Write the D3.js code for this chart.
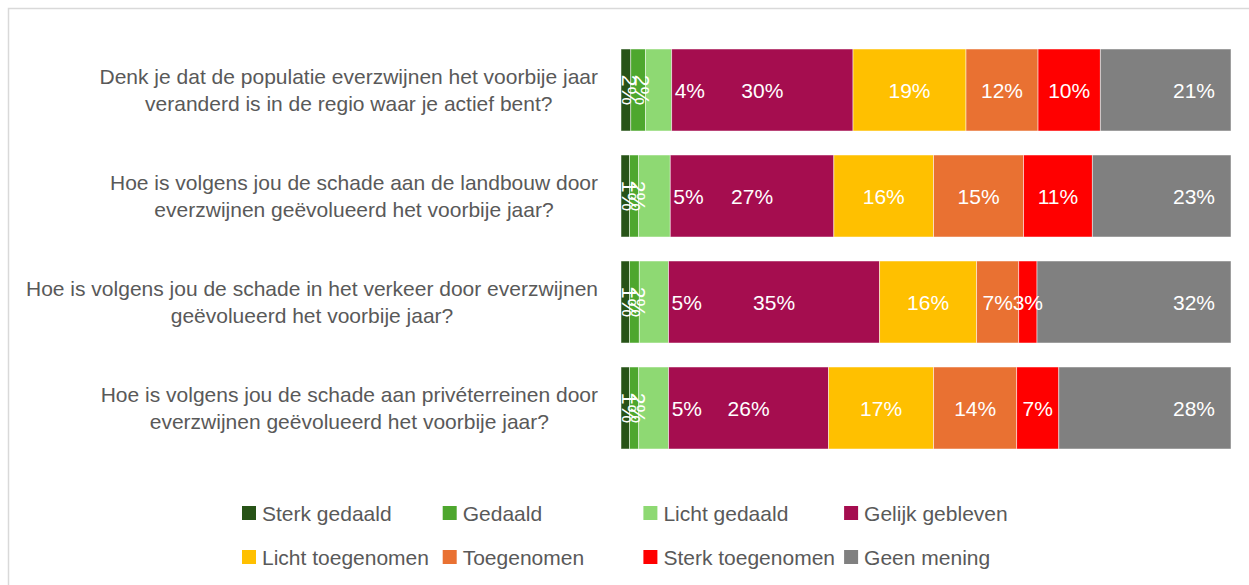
<!DOCTYPE html>
<html>
<head>
<meta charset="utf-8">
<script src="https://cdn.jsdelivr.net/npm/d3@7"></script>
<style>
  body { margin: 0; background: #fff; }
  text { font-family: "Liberation Sans", Arial, sans-serif; }
</style>
</head>
<body>
<div id="chart"></div>
<script>
const W = 1249, H = 585

// questions, each split into its display lines
const questions = [
  ["Denk je dat de populatie everzwijnen het voorbije jaar", "veranderd is in de regio waar je actief bent?"],
  ["Hoe is volgens jou de schade aan de landbouw door", "everzwijnen geëvolueerd het voorbije jaar?"],
  ["Hoe is volgens jou de schade in het verkeer door everzwijnen", "geëvolueerd het voorbije jaar?"],
  ["Hoe is volgens jou de schade aan privéterreinen door", "everzwijnen geëvolueerd het voorbije jaar?"]
]
const answers = ["Sterk gedaald", "Gedaald", "Licht gedaald", "Gelijk gebleven",
  "Licht toegenomen", "Toegenomen", "Sterk toegenomen", "Geen mening"]
const colors = ["#275317", "#4ea72e", "#8ed973", "#a50d4f",
  "#ffc000", "#e97132", "#ff0000", "#808080"]

// percentages per answer, one value per question
const sterkGedaald    = [1.6, 1.4, 1.4, 1.4]
const gedaald         = [2.4, 1.5, 1.6, 1.5]
const lichtGedaald    = [4.3, 5.2, 4.8, 4.9]
const gelijkGebleven  = [29.7, 26.9, 34.6, 26.2]
const lichtToegenomen = [18.5, 16.4, 15.9, 17.2]
const toegenomen      = [11.8, 14.8, 6.9, 13.6]
const sterkToegenomen = [10.2, 11.3, 3.0, 6.9]
const geenMening      = [21.4, 22.8, 31.8, 28.2]

const series = [sterkGedaald, gedaald, lichtGedaald, gelijkGebleven,
  lichtToegenomen, toegenomen, sterkToegenomen, geenMening]

const rows = questions.map((q, i) => {
  const r = { q: i }
  answers.forEach((a, j) => { r[a] = series[j][i] })
  return r
})

const svg = d3.select("#chart").append("svg")
  .attr("width", W).attr("height", H)

// chart area border (top + left visible)
svg.append("rect")
  .attr("x", 8.5).attr("y", 8.5)
  .attr("width", W + 20).attr("height", H + 20)
  .attr("fill", "none").attr("stroke", "#d9d9d9").attr("stroke-width", 1.5)

const x = d3.scaleLinear().domain([0, 1]).range([621, 1231])
const y = d3.scaleBand().domain(d3.range(questions.length))
  .range([37, 461]).paddingInner(0.2264).paddingOuter(0.1132)

const stack = d3.stack().keys(answers).offset(d3.stackOffsetExpand)
const layers = stack(rows)

const g = svg.append("g")
const layer = g.selectAll("g.layer").data(layers).join("g")
  .attr("class", "layer")
  .attr("fill", (d, i) => colors[i])

layer.selectAll("rect").data(d => d).join("rect")
  .attr("x", d => x(d[0]))
  .attr("y", (d, i) => y(i))
  .attr("width", d => x(d[1]) - x(d[0]))
  .attr("height", y.bandwidth())
  .attr("stroke", "#ffffff")
  .attr("stroke-opacity", 0.6)
  .attr("stroke-width", 0.8)

// value labels
layers.forEach((L, k) => {
  L.forEach((d, i) => {
    const val = series[k][i]
    const cy = y(i) + y.bandwidth() / 2
    const t = g.append("text")
      .attr("fill", "#fff")
      .attr("font-size", 21)
      .attr("dominant-baseline", "central")
      .text(Math.round(val) + "%")
    if (k < 2) {
      const cx = (x(d[0]) + x(d[1])) / 2 + 4
      t.attr("text-anchor", "middle")
        .attr("transform", `translate(${cx},${cy}) rotate(90)`)
    } else if (k === 2) {
      t.attr("text-anchor", "start").attr("x", x(d[1]) + 3).attr("y", cy)
    } else if (k === answers.length - 1) {
      t.attr("text-anchor", "end").attr("x", x(d[1]) - 16).attr("y", cy)
    } else {
      t.attr("text-anchor", "middle").attr("x", (x(d[0]) + x(d[1])) / 2).attr("y", cy)
    }
  })
})

// question labels, centered block with right edge at 598
const qg = svg.append("g")
questions.forEach((lines, i) => {
  const cy = y(i) + y.bandwidth() / 2
  const t = qg.append("text")
    .attr("fill", "#595959")
    .attr("font-size", 21)
    .attr("text-anchor", "middle")
  lines.forEach((ln, j) => {
    t.append("tspan").attr("dy", j === 0 ? 0 : 27).text(ln)
  })
  let maxW = 0
  t.selectAll("tspan").each(function () { maxW = Math.max(maxW, this.getComputedTextLength()) })
  const cx = 598 - maxW / 2
  t.attr("y", cy - 13.5 + 7.5)
  t.selectAll("tspan").attr("x", cx)
})

// legend
const legend = svg.append("g")
answers.forEach((a, i) => {
  const col = i % 4, row = Math.floor(i / 4)
  const lx = 242 + col * 200.7
  const ly = 513 + row * 44
  legend.append("rect")
    .attr("x", lx).attr("y", ly - 7)
    .attr("width", 14).attr("height", 14)
    .attr("fill", colors[i])
  legend.append("text")
    .attr("x", lx + 20).attr("y", ly + 7.5)
    .attr("fill", "#595959")
    .attr("font-size", 21)
    .text(a)
})
</script>
</body>
</html>
